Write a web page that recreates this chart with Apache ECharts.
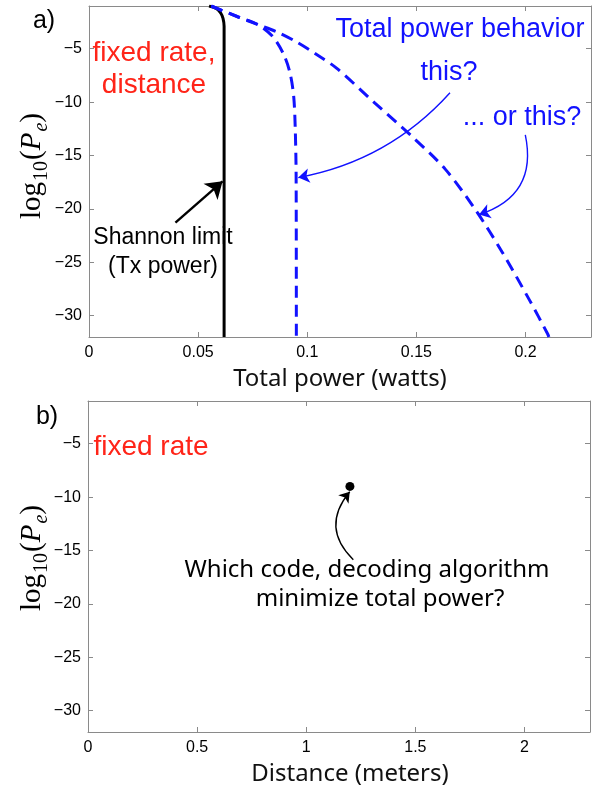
<!DOCTYPE html>
<html><head><meta charset="utf-8">
<script src="https://cdn.jsdelivr.net/npm/echarts@6/dist/echarts.min.js"></script>
<style>html,body{margin:0;padding:0;background:#fff}#c{width:605px;height:792px}</style>
</head><body><div id="c"></div>
<script>
// ---------- data ----------
const powerRange = [0, 0.23];
const distanceRange = [0, 2.3];
const logPeRange = [-32, -1];
const powerTickStep = 0.05;
const distanceTickStep = 0.5;
const logPeTickStep = 5;

// Shannon limit (Tx power), solid black
const shannonPower = [0.0550, 0.0585, 0.0604, 0.0614, 0.0619, 0.0619, 0.0619];
const shannonLogPe = [-1.0, -1.25, -1.68, -2.15, -2.9, -10, -32];

// Total power behavior "this?" (dashed, saturating)
const thisPower = [0.0560, 0.0684, 0.0772, 0.0842, 0.0893, 0.0922, 0.0938, 0.0945, 0.0949, 0.0950];
const thisLogPe = [-1.0, -2.03, -2.73, -3.87, -5.58, -7.36, -9.5, -12.5, -17, -32];

// Total power behavior "... or this?" (dashed, growing)
const orThisPower = [0.0560, 0.0684, 0.0772, 0.0865, 0.0949, 0.1034, 0.1134, 0.1310, 0.1479, 0.1633, 0.1771, 0.1894, 0.2017, 0.2101, 0.2107];
const orThisLogPe = [-1.0, -2.03, -2.73, -3.46, -4.34, -5.42, -6.82, -10.09, -13.2, -16.3, -20.1, -24.08, -28.5, -31.7, -32];

// panel b) operating point
const pointDistance = [1.2];
const pointLogPe = [-9];

// annotation arrows: [start, end] in data coordinates
const arrowShannonPower = [0.0396, 0.0612];
const arrowShannonLogPe = [-21.28, -17.42];
const arrowThisPower = [0.1654, 0.0959];
const arrowThisLogPe = [-9.13, -17.07];
const arrowOrThisPower = [0.1999, 0.1787];
const arrowOrThisLogPe = [-13.06, -20.53];
const arrowPointDistance = [1.2156, 1.1991];
const arrowPointLogPe = [-15.86, -9.5];

// ---------- helpers ----------
const zip = (a, b) => a.map((v, i) => [v, b[i]]);
const AXIS_GRAY = '#8a8a8a';
const BLUE = '#1212ff';
const RED = '#ff2418';
const SANS = '"Liberation Sans", Arial, Helvetica, sans-serif';
const TITLE_FONT = '"Noto Sans", "Open Sans", sans-serif';

function stepFormatter(step, minusSign) {
  return function (v) {
    const k = v / step;
    if (Math.abs(k - Math.round(k)) > 1e-6) return '';
    let s = String(+v.toFixed(3));
    if (minusSign) s = s.replace('-', '\u2212');
    return s;
  };
}

function xAxes(gridIndex, range, step, name, namePadding) {
  const common = {
    gridIndex, type: 'value', min: range[0], max: range[1], interval: step,
    splitLine: { show: false },
    axisLine: { show: true, onZero: false, lineStyle: { color: AXIS_GRAY, width: 1 } },
    axisTick: { show: true, inside: true, length: 5, lineStyle: { color: AXIS_GRAY } }
  };
  return [
    Object.assign({}, common, {
      position: 'bottom',
      name, nameLocation: 'middle', nameGap: 30,
      nameTextStyle: { fontFamily: TITLE_FONT, fontSize: 24, color: '#111', padding: namePadding },
      axisLabel: { show: true, margin: 8, fontFamily: SANS, fontSize: 16, color: '#000',
                   formatter: stepFormatter(step, false) }
    }),
    Object.assign({}, common, { position: 'top', axisLabel: { show: false } })
  ];
}

function yAxes(gridIndex) {
  const common = {
    gridIndex, type: 'value', min: logPeRange[0], max: logPeRange[1], splitNumber: 6,
    splitLine: { show: false },
    axisLine: { show: true, onZero: false, lineStyle: { color: AXIS_GRAY, width: 1 } },
    axisTick: { show: true, inside: true, length: 5, lineStyle: { color: AXIS_GRAY } }
  };
  return [
    Object.assign({}, common, {
      position: 'left',
      axisLabel: { show: true, margin: 7, fontFamily: SANS, fontSize: 16, color: '#000',
                   formatter: stepFormatter(logPeTickStep, true) }
    }),
    Object.assign({}, common, { position: 'right', axisLabel: { show: false } })
  ];
}

function arrowSeries(xIdx, yIdx, xs, ys, color, width, size, curveness) {
  return {
    type: 'lines', coordinateSystem: 'cartesian2d', xAxisIndex: xIdx, yAxisIndex: yIdx,
    polyline: false, silent: true, z: 5,
    symbol: ['none', 'arrow'], symbolSize: size,
    lineStyle: { color, width, curveness, opacity: 1 },
    data: [{ coords: zip(xs, ys) }]
  };
}

function yTitle(cx, cy) {
  return {
    type: 'text', x: cx, y: cy, rotation: Math.PI / 2,
    style: {
      text: '{r|log}{s|10}{r|(}{i|P}{t|e}{r|)}',
      align: 'center', verticalAlign: 'middle',
      rich: {
        r: { fontFamily: '"Liberation Serif", "DejaVu Serif", serif', fontSize: 29, lineHeight: 40, verticalAlign: 'middle', fill: '#000' },
        i: { fontFamily: '"Liberation Serif", "DejaVu Serif", serif', fontStyle: 'italic', fontSize: 29, lineHeight: 40, verticalAlign: 'middle', fill: '#000', padding: [0, 1, 0, 0] },
        s: { fontFamily: '"Liberation Serif", "DejaVu Serif", serif', fontSize: 20, lineHeight: 26, verticalAlign: 'bottom', fill: '#000', padding: [0, 1, 0, 1] },
        t: { fontFamily: '"Liberation Serif", "DejaVu Serif", serif', fontStyle: 'italic', fontSize: 20, lineHeight: 26, verticalAlign: 'bottom', fill: '#000' }
      }
    }
  };
}

function txt(x, y, text, size, color, family, lineHeight) {
  return {
    type: 'text', x, y, z: 10,
    style: { text, fontFamily: family || SANS, fontSize: size, fill: color,
             align: 'center', verticalAlign: 'middle', lineHeight: lineHeight || size * 1.15 }
  };
}

const chart = echarts.init(document.getElementById('c'), null, { renderer: 'canvas' });
const xa = xAxes(0, powerRange, powerTickStep, 'Total power (watts)', [0, 0, 0, 0]);
const xb = xAxes(1, distanceRange, distanceTickStep, 'Distance (meters)', [0, 0, 0, 22]);
const ya = yAxes(0);
const yb = yAxes(1);

const curveStyle = { color: BLUE, width: 3, type: [12, 7] };

chart.setOption({
  animation: false,
  backgroundColor: '#fff',
  grid: [
    { left: 89, top: 6, width: 502, height: 331 },
    { left: 88, top: 401, width: 502, height: 331 }
  ],
  xAxis: [xa[0], xa[1], xb[0], xb[1]],
  yAxis: [ya[0], ya[1], yb[0], yb[1]],
  series: [
    { name: 'Shannon limit', type: 'line', xAxisIndex: 0, yAxisIndex: 0,
      data: zip(shannonPower, shannonLogPe), showSymbol: false, smooth: 0.3,
      lineStyle: { color: '#000', width: 3 }, z: 3 },
    { name: 'this?', type: 'line', xAxisIndex: 0, yAxisIndex: 0,
      data: zip(thisPower, thisLogPe), showSymbol: false, smooth: 0.3,
      lineStyle: curveStyle, z: 3 },
    { name: 'or this?', type: 'line', xAxisIndex: 0, yAxisIndex: 0,
      data: zip(orThisPower, orThisLogPe), showSymbol: false, smooth: 0.3,
      lineStyle: curveStyle, z: 3 },
    arrowSeries(0, 0, arrowShannonPower, arrowShannonLogPe, '#000', 2.4, 16, 0),
    arrowSeries(0, 0, arrowThisPower, arrowThisLogPe, BLUE, 1.4, 11, 0.17),
    arrowSeries(0, 0, arrowOrThisPower, arrowOrThisLogPe, BLUE, 1.4, 11, 0.45),
    { name: 'design point', type: 'scatter', xAxisIndex: 2, yAxisIndex: 2,
      data: zip(pointDistance, pointLogPe), symbol: 'circle', symbolSize: 9,
      itemStyle: { color: '#000', opacity: 1 }, z: 4 },
    arrowSeries(2, 2, arrowPointDistance, arrowPointLogPe, '#000', 1.4, 10, 0.46)
  ],
  graphic: [
    yTitle(32, 166),
    yTitle(32, 558),
    txt(44, 21, 'a)', 25, '#000'),
    txt(47, 417, 'b)', 25, '#000'),
    txt(154, 69, 'fixed rate,\ndistance', 28, RED, SANS, 32),
    txt(460, 30, 'Total power behavior', 27, BLUE),
    txt(449, 73, 'this?', 27, BLUE),
    txt(522, 118, '... or this?', 27, BLUE),
    txt(163, 252, 'Shannon limit\n(Tx power)', 23, '#000', SANS, 29),
    txt(151, 447, 'fixed rate', 28, RED),
    txt(367, 570, 'Which code, decoding algorithm', 24, '#000', TITLE_FONT),
    txt(380, 599, 'minimize total power?', 24, '#000', TITLE_FONT)
  ]
});
</script>
</body></html>
